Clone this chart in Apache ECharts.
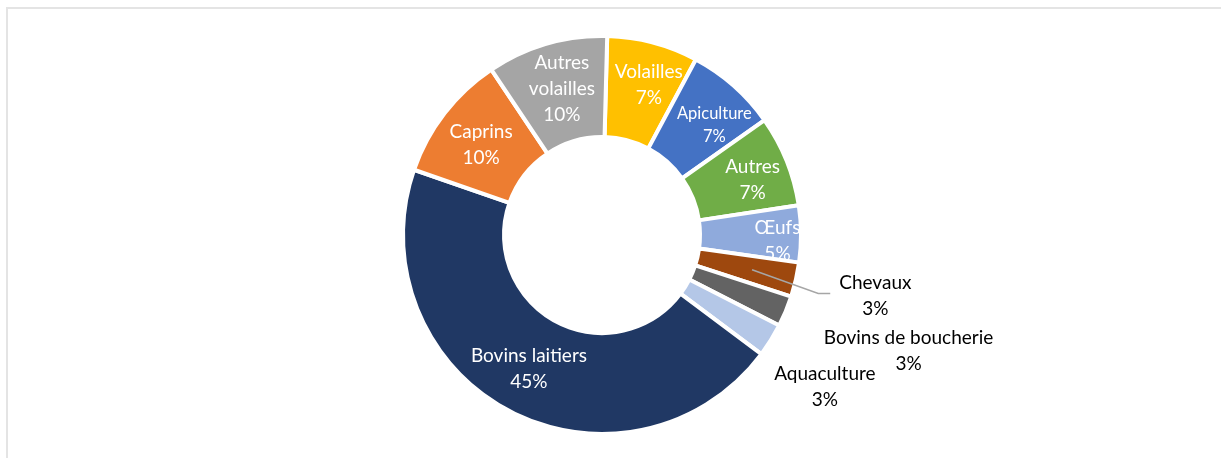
<!DOCTYPE html>
<html>
<head>
<meta charset="utf-8">
<script src="https://cdn.jsdelivr.net/npm/echarts@6/dist/echarts.min.js"></script>
<style>
  html, body { margin: 0; padding: 0; background: #ffffff; }
  #chart { width: 1221px; height: 458px; }
</style>
</head>
<body>
<div id="chart"></div>
<script>
// ---- Data ----
const categories = ['Volailles', 'Apiculture', 'Autres', 'Œufs', 'Chevaux', 'Bovins de boucherie', 'Aquaculture', 'Bovins laitiers', 'Caprins', 'Autres volailles'];
const values = [7.4, 7.4, 7.4, 4.6, 2.8, 2.5, 2.7, 45.1, 10.3, 9.8];
const labelNames = ['Volailles', 'Apiculture', 'Autres', 'Œufs', 'Chevaux', 'Bovins de boucherie', 'Aquaculture', 'Bovins laitiers', 'Caprins', 'Autres\nvolailles'];

// ---- Styling / layout ----
const colors = ['#FFC000', '#4472C4', '#70AD47', '#8FAADC', '#9E480E', '#636363', '#B4C7E7', '#203864', '#ED7D31', '#A5A5A5'];
const outsideIndices = [4, 5, 6];
const leaderIndex = 4; // label drawn with a leader line (Chevaux)
const labelShift = {
  0: [8, -4], 1: [12, 4], 2: [10, 1], 3: [24, 7], 4: [4, 10],
  5: [0, 30], 6: [-33, 33], 7: [-2, 0], 8: [-1, 2], 9: [2, -1]
};
const leaderDy = 8;
const CENTER = [602, 235];
const START = 88.5;

const chart = echarts.init(document.getElementById('chart'), null, { renderer: 'canvas' });

function pctLabel(p) {
  return labelNames[p.dataIndex] + '\n' + Math.round(p.percent) + '%';
}

const mainData = categories.map(function (name, i) {
  const item = { name: name, value: values[i], itemStyle: { color: colors[i] } };
  if (outsideIndices.indexOf(i) >= 0) {
    item.label = { position: 'outside', color: '#000000', show: i !== leaderIndex };
  }
  if (i === 1) {
    item.label = { fontSize: 16.5, lineHeight: 23 };
  }
  return item;
});

// transparent overlay: carries the leader-line label so the line is drawn above the ring
const overlayData = categories.map(function (name, i) {
  return {
    name: name, value: values[i],
    itemStyle: { color: 'rgba(0,0,0,0)', borderWidth: 0 },
    label: { show: i === leaderIndex },
    labelLine: { show: i === leaderIndex }
  };
});

const baseLabel = {
  fontFamily: 'Lato',
  fontSize: 19,
  lineHeight: 26,
  formatter: pctLabel
};

function layoutFn(withLine) {
  return function (p) {
    const s = labelShift[p.dataIndex] || [0, 0];
    const r = p.labelRect;
    const out = {
      x: r.x + r.width / 2 + s[0],
      y: r.y + r.height / 2 + s[1],
      align: 'center',
      verticalAlign: 'middle'
    };
    if (withLine && p.labelLinePoints && p.labelLinePoints.length === 3) {
      const pts = p.labelLinePoints;
      out.labelLinePoints = [
        [pts[0][0], pts[0][1]],
        [pts[1][0] - 2, pts[1][1] + leaderDy],
        [pts[2][0], pts[2][1] + leaderDy]
      ];
    }
    return out;
  };
}

chart.setOption({
  backgroundColor: '#ffffff',
  animation: false,
  graphic: [{
    type: 'rect',
    shape: { x: 7, y: 8, width: 1400, height: 600 },
    style: { fill: 'none', stroke: '#E4E4E4', lineWidth: 2 },
    silent: true
  }],
  series: [{
    type: 'pie',
    z: 2,
    center: CENTER,
    radius: [98, 199],
    startAngle: START,
    clockwise: true,
    avoidLabelOverlap: false,
    itemStyle: { borderColor: '#ffffff', borderWidth: 4 },
    label: Object.assign({ show: true, position: 'inside', color: '#ffffff' }, baseLabel),
    labelLine: { show: false, length: 25, length2: 10 },
    labelLayout: layoutFn(false),
    data: mainData
  }, {
    type: 'pie',
    z: 6,
    silent: true,
    center: CENTER,
    radius: [0, 154],
    startAngle: START,
    clockwise: true,
    avoidLabelOverlap: false,
    label: Object.assign({ position: 'outside', color: '#000000' }, baseLabel),
    labelLine: {
      length: 70, length2: 10, showAbove: true,
      lineStyle: { color: '#A6A6A6', width: 1.5 }
    },
    labelLayout: layoutFn(true),
    data: overlayData
  }]
});
</script>
</body>
</html>
